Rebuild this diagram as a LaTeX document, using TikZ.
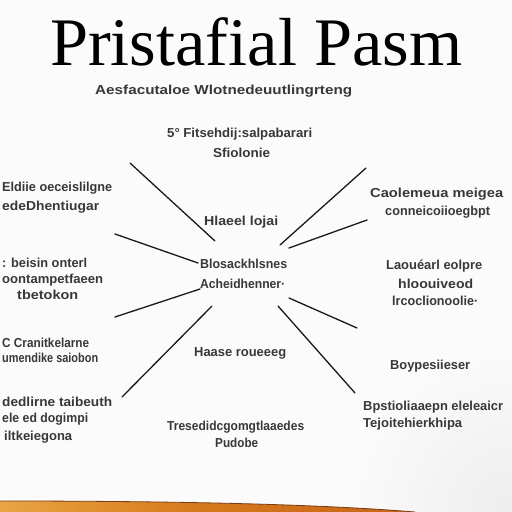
\documentclass[tikz,border=0pt]{standalone}
\usepackage{fontspec}
\setmainfont{Liberation Serif}
\newfontfamily\smallf{Liberation Sans}
\usepackage{graphicx}
\newcommand\fitw[2]{\resizebox{#1pt}{\height}{#2}}
\definecolor{paper}{HTML}{FBFBFB}
\definecolor{woodA}{HTML}{E9A443}
\definecolor{woodB}{HTML}{D4781A}
\definecolor{woodC}{HTML}{C8641A}
\definecolor{woodEdge}{HTML}{7A3A10}
\begin{document}
\begin{tikzpicture}[x=1pt,y=-1pt,
  lbl/.style={font=\smallf\bfseries\fontsize{13}{15}\selectfont, text=black!78, inner sep=0pt, anchor=base west},
  spoke/.style={line width=1.3pt, draw=black!90, line cap=round},
  ttl/.style={font=\fontsize{68}{70}\selectfont, text=black, inner sep=0pt, anchor=base west}]
\useasboundingbox (0,0) rectangle (512,512);
\fill[paper] (0,0) rectangle (512,512);
\begin{scope}
\clip (0,0) rectangle (512,512);
\shade[inner color=gray!14, outer color=paper] (512,512) circle (170);
\end{scope}
% wooden table edge
\shade[left color=woodA, right color=woodC, middle color=woodB]
  (0,501) .. controls (200,501) and (330,505) .. (415,512) -- (0,512) -- cycle;
\draw[woodEdge, line width=0.8pt] (0,501) .. controls (200,501) and (330,505) .. (415,512);
% title
\node[ttl] (title) at (50,65) {\fitw{412}{Pristafial Pasm}};
\node[lbl] (sub) at (95,94) {\fitw{257}{Aesfacutaloe Wlotnedeuutlingrteng}};
% top centre
\node[lbl] (tc1) at (167,137) {\fitw{145}{5° Fitsehdij:salpabarari}};
\node[lbl] (tc2) at (213,157) {\fitw{57}{Sfiolonie}};
% centre
\node[lbl] (c1) at (204,225) {\fitw{74}{Hlaeel lojai}};
\node[lbl] (c2) at (200,268) {\fitw{87}{Blosackhlsnes}};
\node[lbl] (c3) at (200,288) {\fitw{85}{Acheidhenner·}};
\node[lbl] (c4) at (194,356) {\fitw{92}{Haase roueeeg}};
\node[lbl] (c5) at (167,430) {\fitw{137}{Tresedidcgomgtlaaedes}};
\node[lbl] (c6) at (215,447) {\fitw{43}{Pudobe}};
% left
\node[lbl] (l1) at (2,191) {\fitw{110}{Eldiie oeceislilgne}};
\node[lbl] (l2) at (2,210) {\fitw{97}{edeDhentiugar}};
\node[lbl] (l3) at (2,267) {\fitw{85}{: beisin onterl}};
\node[lbl] (l4) at (2,283) {\fitw{101}{oontampetfaeen}};
\node[lbl] (l5) at (17,299) {\fitw{61}{tbetokon}};
\node[lbl] (l6) at (2,347) {\fitw{87}{C Cranitkelarne}};
\node[lbl] (l7) at (2,362) {\fitw{96}{umendike saiobon}};
\node[lbl] (l8) at (2,406) {\fitw{110}{dedlirne taibeuth}};
\node[lbl] (l9) at (2,422) {\fitw{86}{ele ed dogimpi}};
\node[lbl] (l10) at (4,440) {\fitw{68}{iltkeiegona}};
% right
\node[lbl] (r1) at (370,197) {\fitw{133}{Caolemeua meigea}};
\node[lbl] (r2) at (385,215) {\fitw{105}{conneicoiioegbpt}};
\node[lbl] (r3) at (386,269) {\fitw{96}{Laouéarl eolpre}};
\node[lbl] (r4) at (398,288) {\fitw{75}{hloouiveod}};
\node[lbl] (r5) at (392,305) {\fitw{86}{lrcoclionoolie·}};
\node[lbl] (r6) at (390,369) {\fitw{80}{Boypesiieser}};
\node[lbl] (r7) at (363,410) {\fitw{140}{Bpstioliaaepn eleleaicr}};
\node[lbl] (r8) at (363,427) {\fitw{99}{Tejoitehierkhipa}};
% spokes
\coordinate (a1) at (130,163); \coordinate (b1) at (215,241);
\coordinate (a2) at (115,234); \coordinate (b2) at (198,263);
\coordinate (a3) at (115,317); \coordinate (b3) at (200,289);
\coordinate (a4) at (122,397); \coordinate (b4) at (212,306);
\coordinate (a5) at (366,168); \coordinate (b5) at (280,245);
\coordinate (a6) at (367,220); \coordinate (b6) at (289,248);
\coordinate (a7) at (357,328); \coordinate (b7) at (289,298);
\coordinate (a8) at (355,393); \coordinate (b8) at (278,306);
\foreach \i in {1,...,8} \draw[spoke] (a\i) -- (b\i);
\end{tikzpicture}
\end{document}
